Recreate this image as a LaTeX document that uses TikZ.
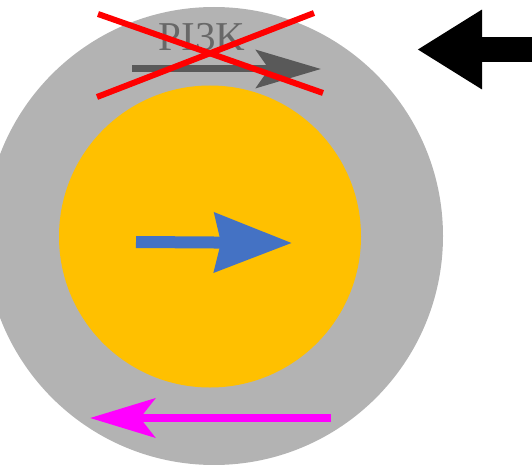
\documentclass[tikz,border=0pt]{standalone}
\usepackage{fontspec}
\setmainfont{Liberation Serif}
\usetikzlibrary{arrows.meta,shapes.geometric}
\definecolor{cellgray}{RGB}{179,179,179}
\definecolor{coreyellow}{RGB}{255,192,0}
\definecolor{arrowblue}{RGB}{68,114,196}
\definecolor{arrowgray}{RGB}{89,89,89}
\definecolor{arrowpink}{RGB}{255,0,255}
\definecolor{textgray}{RGB}{104,104,104}
\begin{document}
\begin{tikzpicture}[x=1pt,y=-1pt,
        disc/.style={circle,inner sep=0pt}]
        \useasboundingbox (0,0) rectangle (532,465);
        \node[disc,fill=cellgray,minimum size=458pt] (cell) at (214,236) {};
        \node[disc,fill=coreyellow,minimum size=302pt] (core) at (210,236.5) {};
        \node[text=textgray,font=\fontsize{41}{41}\selectfont,anchor=base,inner sep=0pt] (pi3k) at (202,50.5) {PI3K};

        \coordinate (1a) at (132,69);
        \coordinate (1b) at (321,69);
        \coordinate (2a) at (136,242);
        \coordinate (2b) at (292,243);
        \coordinate (3a) at (331,418);
        \coordinate (3b) at (90,418);
        \coordinate (4a) at (533,49.5);
        \coordinate (4b) at (417,49.5);
        \coordinate (5a) at (98,14);
        \coordinate (5b) at (323,93);
        \coordinate (6a) at (97,97);
        \coordinate (6b) at (314,13);

        \path[draw,arrowgray,line width=7pt,-{Stealth[length=65pt,width=38pt,inset=13pt]}] (1a) -- (1b);
        \path[draw,arrowblue,line width=12pt,-{Stealth[length=77pt,width=58pt,inset=6pt]}] (2a) -- (2b);
        \path[draw,arrowpink,line width=8pt,-{Stealth[length=65pt,width=39pt,inset=15pt]}] (3a) -- (3b);
        \path[draw,black,line width=25pt,-{Triangle[length=65pt,width=75pt]}] (4a) -- (4b);
        \path[draw,red,line width=6pt] (5a) -- (5b);
        \path[draw,red,line width=6pt] (6a) -- (6b);
    \end{tikzpicture}
\end{document}
